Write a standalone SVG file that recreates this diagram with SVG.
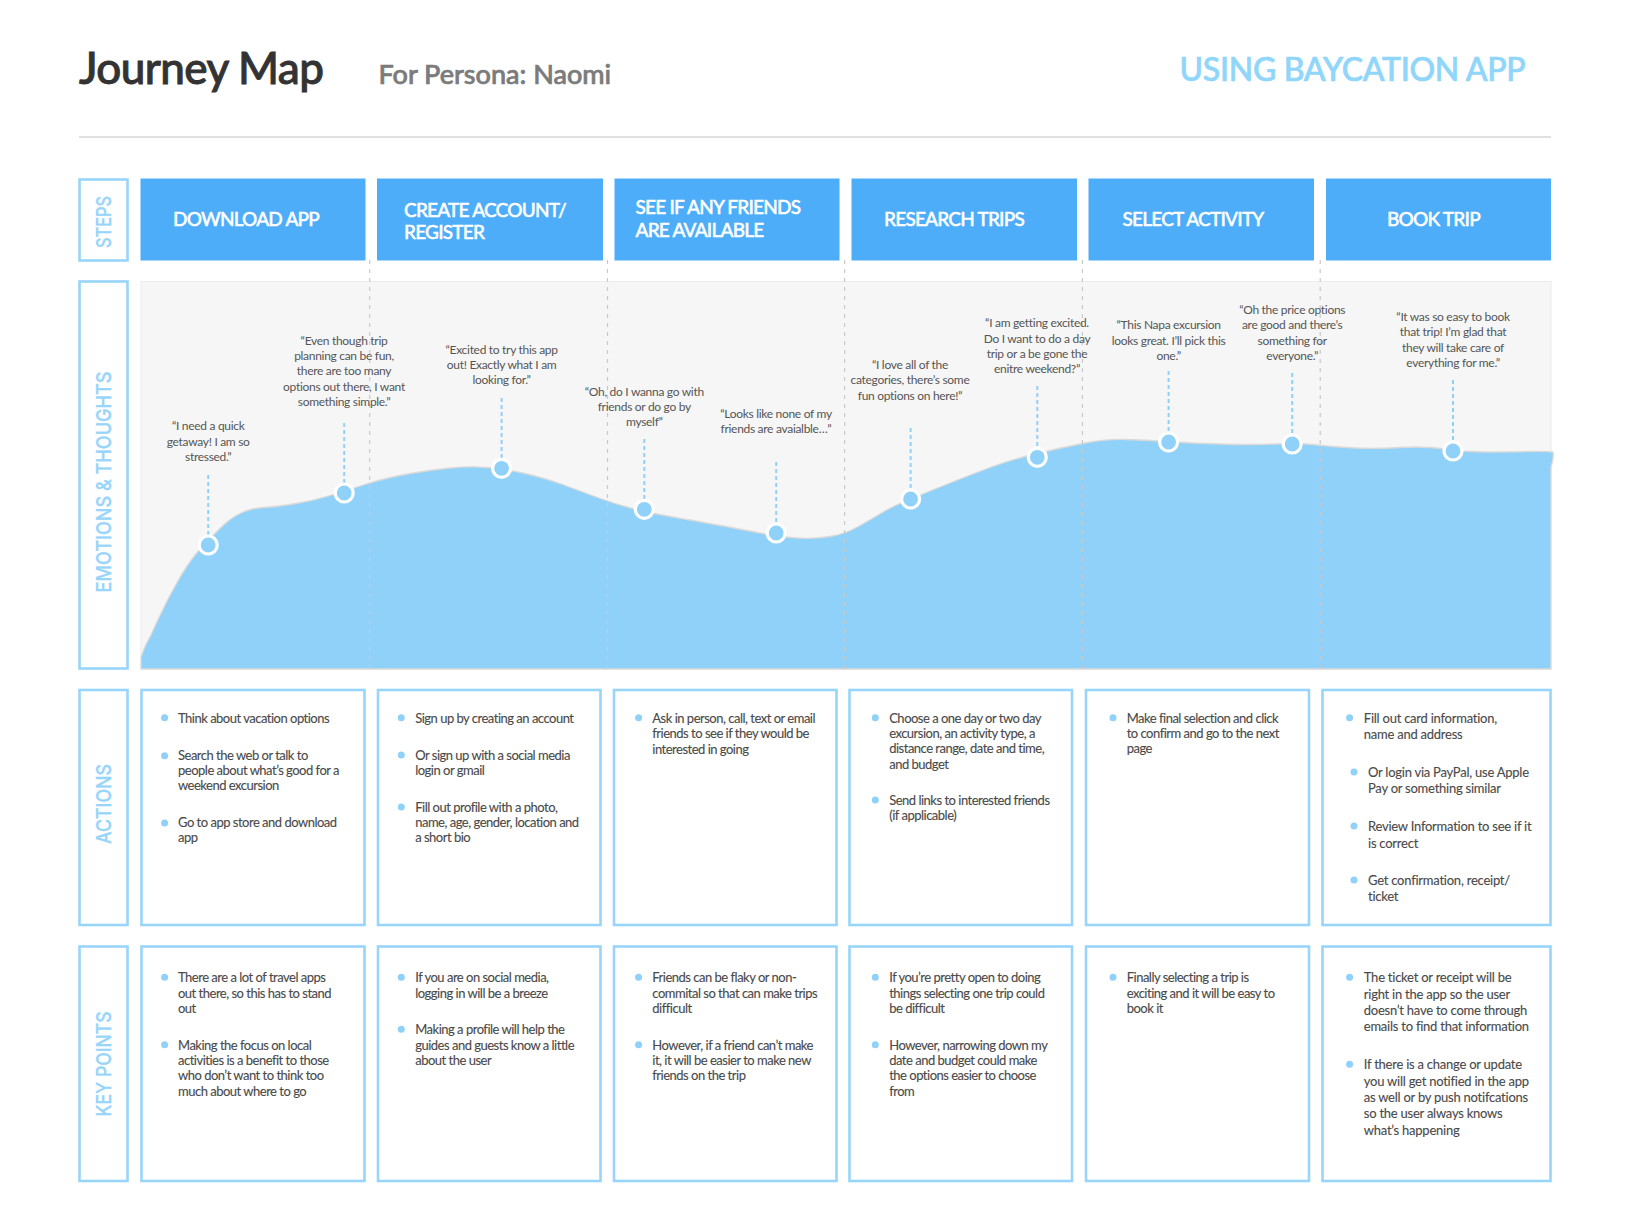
<svg xmlns="http://www.w3.org/2000/svg" width="1628" height="1220" viewBox="0 0 1628 1220">
<style>
text{font-family:Lato,"Liberation Sans",sans-serif}
.box{fill:#fff;stroke:#97d5fb;stroke-width:2.6}
.step{fill:#4dadf9}
.st{fill:#fff;stroke:#fff;stroke-width:.45px;font-size:19px;font-weight:500;letter-spacing:-.78px}
.lab{fill:#97d5fb;stroke:#97d5fb;stroke-width:.35px;font-family:Inter,"Open Sans",sans-serif;font-size:20.5px;font-weight:500;text-anchor:middle}
.b{fill:#4a4a4a;stroke:#4a4a4a;stroke-width:.12px;font-size:13px;letter-spacing:-.5px}
.b6{letter-spacing:-.24px}
.q{fill:#555;font-size:12px;letter-spacing:-.3px;text-anchor:middle}
.dot{fill:#90d1f9}
.pt{fill:#90d1f9;stroke:#fff;stroke-width:3.2}
.grid{stroke:#c9c9c9;stroke-width:1.2;stroke-dasharray:4 5;fill:none}
.stem{stroke:#90d1f9;stroke-width:2;stroke-dasharray:4 3;fill:none}
</style>
<rect width="1628" height="1220" fill="#fff"/>
<g id="header">
<text x="79" y="84" font-size="44" font-weight="500" fill="#333" stroke="#333" stroke-width=".9" letter-spacing="-.6">Journey Map</text>
<text x="378.5" y="84" font-size="27" font-weight="500" fill="#7b7b7b" stroke="#7b7b7b" stroke-width=".7">For Persona: Naomi</text>
<text x="1179.5" y="80.5" font-size="32" font-weight="500" fill="#90d6fb" stroke="#90d6fb" stroke-width=".7" letter-spacing="-.3">USING BAYCATION APP</text>
<line x1="79" y1="137" x2="1551" y2="137" stroke="#d6d6d6" stroke-width="1.5"/>
</g>
<g id="label-steps"><rect class="box" x="79.5" y="179.5" width="48" height="81"/><text class="lab" transform="translate(111 222) rotate(-90)" textLength="52" lengthAdjust="spacingAndGlyphs">STEPS</text></g>
<g id="label-emotions"><rect class="box" x="79.5" y="281.5" width="48" height="387"/><text class="lab" transform="translate(111 482) rotate(-90)" textLength="221" lengthAdjust="spacingAndGlyphs">EMOTIONS &amp; THOUGHTS</text></g>
<g id="label-actions"><rect class="box" x="79.5" y="690" width="48" height="235"/><text class="lab" transform="translate(111 804) rotate(-90)" textLength="80" lengthAdjust="spacingAndGlyphs">ACTIONS</text></g>
<g id="label-keypoints"><rect class="box" x="79.5" y="946.5" width="48" height="234.5"/><text class="lab" transform="translate(111 1064) rotate(-90)" textLength="105" lengthAdjust="spacingAndGlyphs">KEY POINTS</text></g>
<g id="step-1"><rect class="step" x="140.5" y="178.5" width="225" height="82"/><text class="st" x="173" y="225.7">DOWNLOAD APP</text></g>
<g id="step-2"><rect class="step" x="377" y="178.5" width="226" height="82"/><text class="st" x="404"><tspan x="404" y="216.7">CREATE ACCOUNT/</tspan><tspan x="404" y="238.7">REGISTER</tspan></text></g>
<g id="step-3"><rect class="step" x="614.5" y="178.5" width="225" height="82"/><text class="st"><tspan x="635.5" y="214.3">SEE IF ANY FRIENDS</tspan><tspan x="635.5" y="236.7">ARE AVAILABLE</tspan></text></g>
<g id="step-4"><rect class="step" x="851.5" y="178.5" width="225.5" height="82"/><text class="st" x="884" y="225.7">RESEARCH TRIPS</text></g>
<g id="step-5"><rect class="step" x="1088.5" y="178.5" width="225.5" height="82"/><text class="st" x="1122.5" y="225.7">SELECT ACTIVITY</text></g>
<g id="step-6"><rect class="step" x="1326" y="178.5" width="225" height="82"/><text class="st" x="1387" y="225.7">BOOK TRIP</text></g>
<g id="chart">
<rect x="141" y="281.5" width="1410" height="387.5" fill="#f6f6f6" stroke="#ececec" stroke-width="1"/>
<path fill="#90d1f9" stroke="#dcdad8" stroke-width="1.3" d="M141,669 L141,657 Q145,645 150,637 Q150,637 159,617.5 Q168,598 179,579 Q190,560 201,548 Q212,536 222,526.5 Q232,517 242,512.5 Q252,508 263.5,507.5 Q275,507 293.5,504 Q312,501 328.5,496 Q345,491 365,484.5 Q385,478 407.5,474 Q430,470 450,468 Q470,466 487.5,467.5 Q505,469 525,473.5 Q545,478 562.5,484.5 Q580,491 597.5,497.5 Q615,504 632.5,508.5 Q650,513 690,520 Q730,527 755,532 Q780,537 797.5,538 Q815,539 830,536.5 Q845,534 857.5,527 Q870,520 881.5,513 Q893,506 911.5,498.5 Q930,491 950,483 Q970,475 990,467.5 Q1010,460 1035,454 Q1060,448 1082.5,443.5 Q1105,439 1125,439.5 Q1145,440 1167.5,441.5 Q1190,443 1220,444 Q1250,445 1275,444 Q1300,443 1317.5,445 Q1335,447 1355,448 Q1375,449 1400,447.5 Q1425,446 1445,449 Q1465,452 1487.5,452 Q1510,452 1527.5,451.5 Q1545,451 1553,452 Q1554,459 1551,467 L1551,669 Z"/>
</g>
<g id="connectors">
<path class="grid" d="M369.7,260V669M607.5,260V669M844.6,260V669M1082.4,260V669M1320.2,260V669"/>
<path class="stem" d="M208.2,475V535M344.2,423V483M501.6,398V458M644.3,439V500M776.2,462V523M910.6,428V489M1037.3,386V448M1168.6,371V432M1292.2,373V434M1453,380V442"/>
</g>
<g id="point-1"><circle class="pt" cx="208.2" cy="545" r="9"/><text class="q"><tspan x="208.2" y="430.3">“I need a quick</tspan><tspan x="208.2" y="445.7">getaway! I am so</tspan><tspan x="208.2" y="461">stressed.”</tspan></text></g>
<g id="point-2"><circle class="pt" cx="344.2" cy="493" r="9"/><text class="q"><tspan x="344" y="344.7">“Even though trip</tspan><tspan x="344" y="360">planning can be fun,</tspan><tspan x="344" y="375.3">there are too many</tspan><tspan x="344" y="390.7">options out there, I want</tspan><tspan x="344" y="406">something simple.”</tspan></text></g>
<g id="point-3"><circle class="pt" cx="501.6" cy="468.3" r="9"/><text class="q"><tspan x="501.6" y="353.7">“Excited to try this app</tspan><tspan x="501.6" y="369">out! Exactly what I am</tspan><tspan x="501.6" y="384.3">looking for.”</tspan></text></g>
<g id="point-4"><circle class="pt" cx="644.3" cy="509.3" r="9"/><text class="q"><tspan x="644.3" y="395.7">“Oh, do I wanna go with</tspan><tspan x="644.3" y="411">friends or do go by</tspan><tspan x="644.3" y="426.3">myself”</tspan></text></g>
<g id="point-5"><circle class="pt" cx="776.2" cy="533" r="9"/><text class="q"><tspan x="776" y="418">“Looks like none of my</tspan><tspan x="776" y="433.3">friends are avaialble…”</tspan></text></g>
<g id="point-6"><circle class="pt" cx="910.6" cy="499" r="9"/><text class="q"><tspan x="910" y="369">“I love all of the</tspan><tspan x="910" y="384.3">categories, there’s some</tspan><tspan x="910" y="399.7">fun options on here!”</tspan></text></g>
<g id="point-7"><circle class="pt" cx="1037.3" cy="457.3" r="9"/><text class="q"><tspan x="1037" y="327.3">“I am getting excited.</tspan><tspan x="1037" y="342.7">Do I want to do a day</tspan><tspan x="1037" y="358">trip or a be gone the</tspan><tspan x="1037" y="373.3">enitre weekend?”</tspan></text></g>
<g id="point-8"><circle class="pt" cx="1168.6" cy="442" r="9"/><text class="q"><tspan x="1168.6" y="329.3">“This Napa excursion</tspan><tspan x="1168.6" y="344.7">looks great. I’ll pick this</tspan><tspan x="1168.6" y="360">one.”</tspan></text></g>
<g id="point-9"><circle class="pt" cx="1292.2" cy="444" r="9"/><text class="q"><tspan x="1292.2" y="314">“Oh the price options</tspan><tspan x="1292.2" y="329.3">are good and there’s</tspan><tspan x="1292.2" y="344.7">something for</tspan><tspan x="1292.2" y="360">everyone.”</tspan></text></g>
<g id="point-10"><circle class="pt" cx="1453" cy="451" r="9"/><text class="q"><tspan x="1453" y="321">“It was so easy to book</tspan><tspan x="1453" y="336.3">that trip! I’m glad that</tspan><tspan x="1453" y="351.7">they will take care of</tspan><tspan x="1453" y="367">everything for me.”</tspan></text></g>
<g id="action-1"><rect class="box" x="141.5" y="690" width="223" height="235"/><circle class="dot" cx="164.6" cy="717.7" r="3.5"/><circle class="dot" cx="164.6" cy="755.7" r="3.5"/><circle class="dot" cx="164.6" cy="823" r="3.5"/><text class="b"><tspan x="178" y="722.7">Think about vacation options</tspan><tspan x="178" y="759.7">Search the web or talk to</tspan><tspan x="178" y="775">people about what’s good for a</tspan><tspan x="178" y="790.3">weekend excursion</tspan><tspan x="178" y="827">Go to app store and download</tspan><tspan x="178" y="842.3">app</tspan></text></g>
<g id="action-2"><rect class="box" x="378" y="690" width="222.5" height="235"/><circle class="dot" cx="401.3" cy="717.7" r="3.5"/><circle class="dot" cx="401.3" cy="755" r="3.5"/><circle class="dot" cx="401.3" cy="807" r="3.5"/><text class="b"><tspan x="415.2" y="722.7">Sign up by creating an account</tspan><tspan x="415.2" y="759.7">Or sign up with a social media</tspan><tspan x="415.2" y="775">login or gmail</tspan><tspan x="415.2" y="811.7">Fill out profile with a photo,</tspan><tspan x="415.2" y="827">name, age, gender, location and</tspan><tspan x="415.2" y="842.3">a short bio</tspan></text></g>
<g id="action-3"><rect class="box" x="614" y="690" width="222.5" height="235"/><circle class="dot" cx="638.6" cy="717.7" r="3.5"/><text class="b"><tspan x="652.3" y="722.7">Ask in person, call, text or email</tspan><tspan x="652.3" y="738">friends to see if they would be</tspan><tspan x="652.3" y="753.7">interested in going</tspan></text></g>
<g id="action-4"><rect class="box" x="849.5" y="690" width="222.5" height="235"/><circle class="dot" cx="875.3" cy="717.7" r="3.5"/><circle class="dot" cx="875.3" cy="800" r="3.5"/><text class="b"><tspan x="889.2" y="722.7">Choose a one day or two day</tspan><tspan x="889.2" y="738">excursion, an activity type, a</tspan><tspan x="889.2" y="753.3">distance range, date and time,</tspan><tspan x="889.2" y="768.7">and budget</tspan><tspan x="889.2" y="805">Send links to interested friends</tspan><tspan x="889.2" y="820.3">(if applicable)</tspan></text></g>
<g id="action-5"><rect class="box" x="1086" y="690" width="223" height="235"/><circle class="dot" cx="1113" cy="717.7" r="3.5"/><text class="b"><tspan x="1126.7" y="722.7">Make final selection and click</tspan><tspan x="1126.7" y="738">to confirm and go to the next</tspan><tspan x="1126.7" y="753.3">page</tspan></text></g>
<g id="action-6"><rect class="box" x="1322.5" y="690" width="228" height="235"/><circle class="dot" cx="1349.6" cy="717.7" r="3.5"/><circle class="dot" cx="1354" cy="772" r="3.5"/><circle class="dot" cx="1354" cy="826" r="3.5"/><circle class="dot" cx="1354" cy="880" r="3.5"/><text class="b b6"><tspan x="1363.8" y="722.7">Fill out card information,</tspan><tspan x="1363.8" y="739">name and address</tspan><tspan x="1368" y="777">Or login via PayPal, use Apple</tspan><tspan x="1368" y="793.3">Pay or something similar</tspan><tspan x="1368" y="831">Review Information to see if it</tspan><tspan x="1368" y="847.7">is correct</tspan><tspan x="1368" y="885">Get confirmation, receipt/</tspan><tspan x="1368" y="901.3">ticket</tspan></text></g>
<g id="key-1"><rect class="box" x="141.5" y="946.5" width="223" height="234.5"/><circle class="dot" cx="164.6" cy="977.3" r="3.5"/><circle class="dot" cx="164.6" cy="1044.7" r="3.5"/><text class="b"><tspan x="178" y="982.3">There are a lot of travel apps</tspan><tspan x="178" y="997.7">out there, so this has to stand</tspan><tspan x="178" y="1013">out</tspan><tspan x="178" y="1049.7">Making the focus on local</tspan><tspan x="178" y="1065">activities is a benefit to those</tspan><tspan x="178" y="1080.3">who don’t want to think too</tspan><tspan x="178" y="1095.7">much about where to go</tspan></text></g>
<g id="key-2"><rect class="box" x="378" y="946.5" width="222.5" height="234.5"/><circle class="dot" cx="401.3" cy="977.3" r="3.5"/><circle class="dot" cx="401.3" cy="1029.3" r="3.5"/><text class="b"><tspan x="415.2" y="982.3">If you are on social media,</tspan><tspan x="415.2" y="997.7">logging in will be a breeze</tspan><tspan x="415.2" y="1034.3">Making a profile will help the</tspan><tspan x="415.2" y="1049.7">guides and guests know a little</tspan><tspan x="415.2" y="1065">about the user</tspan></text></g>
<g id="key-3"><rect class="box" x="614" y="946.5" width="222.5" height="234.5"/><circle class="dot" cx="638.6" cy="977.3" r="3.5"/><circle class="dot" cx="638.6" cy="1044.7" r="3.5"/><text class="b"><tspan x="652.3" y="982.3">Friends can be flaky or non-</tspan><tspan x="652.3" y="997.7">commital so that can make trips</tspan><tspan x="652.3" y="1013">difficult</tspan><tspan x="652.3" y="1049.7">However, if a friend can’t make</tspan><tspan x="652.3" y="1065">it, it will be easier to make new</tspan><tspan x="652.3" y="1080.3">friends on the trip</tspan></text></g>
<g id="key-4"><rect class="box" x="849.5" y="946.5" width="222.5" height="234.5"/><circle class="dot" cx="875.3" cy="977.3" r="3.5"/><circle class="dot" cx="875.3" cy="1044.7" r="3.5"/><text class="b"><tspan x="889.2" y="982.3">If you’re pretty open to doing</tspan><tspan x="889.2" y="997.7">things selecting one trip could</tspan><tspan x="889.2" y="1013">be difficult</tspan><tspan x="889.2" y="1049.7">However, narrowing down my</tspan><tspan x="889.2" y="1065">date and budget could make</tspan><tspan x="889.2" y="1080.3">the options easier to choose</tspan><tspan x="889.2" y="1095.7">from</tspan></text></g>
<g id="key-5"><rect class="box" x="1086" y="946.5" width="223" height="234.5"/><circle class="dot" cx="1113" cy="977.3" r="3.5"/><text class="b"><tspan x="1126.7" y="982.3">Finally selecting a trip is</tspan><tspan x="1126.7" y="997.7">exciting and it will be easy to</tspan><tspan x="1126.7" y="1013">book it</tspan></text></g>
<g id="key-6"><rect class="box" x="1322.5" y="946.5" width="228" height="234.5"/><circle class="dot" cx="1349.6" cy="977.3" r="3.5"/><circle class="dot" cx="1349.6" cy="1064.3" r="3.5"/><text class="b b6"><tspan x="1363.8" y="982.3">The ticket or receipt will be</tspan><tspan x="1363.8" y="998.7">right in the app so the user</tspan><tspan x="1363.8" y="1015">doesn’t have to come through</tspan><tspan x="1363.8" y="1031.3">emails to find that information</tspan><tspan x="1363.8" y="1069.3">If there is a change or update</tspan><tspan x="1363.8" y="1085.7">you will get notified in the app</tspan><tspan x="1363.8" y="1102">as well or by push notifcations</tspan><tspan x="1363.8" y="1118.3">so the user always knows</tspan><tspan x="1363.8" y="1134.7">what’s happening</tspan></text></g>
</svg>
